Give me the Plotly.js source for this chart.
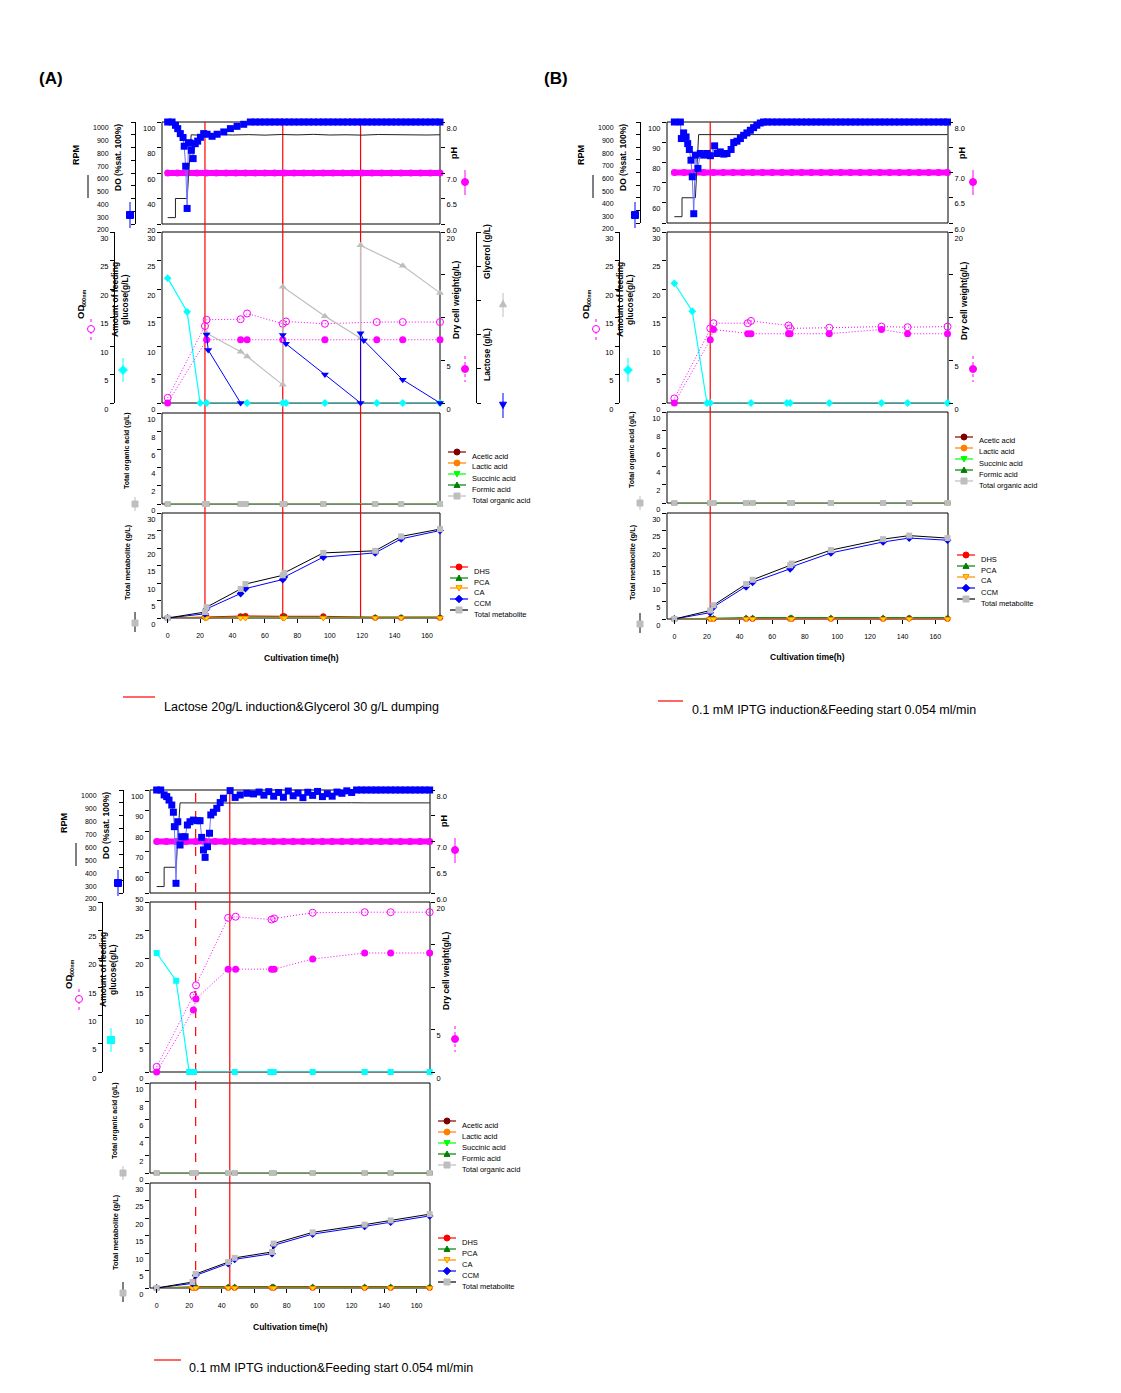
<!DOCTYPE html>
<html><head><meta charset="utf-8">
<script src="https://cdn.plot.ly/plotly-3.0.1.min.js"></script>
<style>html,body{margin:0;padding:0;background:#fff}#chart{width:1121px;height:1393px}</style>
</head><body><div id="chart"></div>
<script>
// ====================== DATA ======================
// common tick labels
const xTicks = [0, 20, 40, 60, 80, 100, 120, 140, 160];

// ---------- Panel A : Lactose 20 g/L induction & Glycerol 30 g/L dumping ----------
const A_induction = [23, 71, 119];
const A_do_t = [0,2.7,4.8,6.2,7.8,9.5,10.2,11.1,12.0,12.8,13.6,14.6,15.7,17,18.5,20.2,22.2,24.3,27.4,30.5,34.6,38.7,42.8,46.9,51,
  54,57,60,63,66,69,72,75,78,81,84,87,90,93,96,99,102,105,108,111,114,117,120,123,126,129,132,135,138,141,144,147,150,153,156,159,162,165,168];
const A_do = [100,100,97.4,94.8,90.9,87.8,81,65.3,32.2,83.6,83.6,77.8,71.3,83,85,88,90.9,90.4,88.8,90.4,92.2,94.8,96.6,98.2,100,
  100,100,100,100,100,100,100,100,100,100,100,100,100,100,100,100,100,100,100,100,100,100,100,100,100,100,100,100,100,100,100,100,100,100,100,100,100,100,100];
const A_rpm_t = [0,4.8,4.8,12,14.5,20,30,40,50,60,70,80,90,100,110,120,130,140,150,160,168];
const A_rpm   = [250,250,400,400,900,896,903,898,901,897,902,899,903,898,900,897,902,899,901,898,900];
const A_ph_t = [0,6,12,18,24,30,36,42,48,54,60,66,72,78,84,90,96,102,108,114,120,126,132,138,144,150,156,162,168];
const A_ph   = [7.0,7.0,7.0,7.0,7.0,7.0,7.0,7.0,7.0,7.0,7.0,7.0,7.0,7.0,7.0,7.0,7.0,7.0,7.0,7.0,7.0,7.0,7.0,7.0,7.0,7.0,7.0,7.0,7.0];
const A_glc_t = [0,12,20,24,49,71,73,97,129,145,168];
const A_glc   = [21.9,16.0,0,0,0,0,0,0,0,0,0];
const A_od_t = [0,23,24,45,49,71,73,97,129,145,168];
const A_od   = [0.9,13.5,14.6,14.7,15.7,13.9,14.3,13.9,14.2,14.2,14.2];
const A_dcw_t = [0,24,45,49,71,97,129,145,168];
const A_dcw   = [0,7.4,7.4,7.4,7.4,7.4,7.4,7.4,7.4];
const A_lac_t = [24,25,45,45,71,73,97,119,119,121,145,168];
const A_lac   = [20,15.5,0,null,19.9,17.3,8.3,0,20.4,18.3,6.8,0];
const A_gly_t = [24,45,49,71,71,97,119,119,145,168];
const A_gly   = [20.4,15.0,13.6,5.3,34.0,25.4,18.9,46.1,40.1,32.2];
const A_met_t = [0,23,24,45,48,71,72,96,128,144,168];
const A_acetic = [0,0,0,0,0,0,0,0,0,0,0];
const A_lactic = [0,0,0,0,0,0,0,0,0,0,0];
const A_succinic = [0,0,0,0,0,0,0,0,0,0,0];
const A_formic = [0,0,0,0,0,0,0,0,0,0,0];
const A_totOA = [0,0,0,0,0,0,0,0,0,0,0];
const A_dhs = [0,0.2,0.3,0.5,0.6,0.5,0.5,0.5,0.1,0.1,0.1];
const A_pca = [0,0.2,0.2,0.3,0.3,0.3,0.3,0.3,0.3,0.3,0.3];
const A_ca  = [0,0,0,0,0,0,0,0,0,0,0];
const A_ccm = [0,1.2,2.6,7.0,8.4,11.0,11.7,17.4,18.6,22.6,25.0];
const A_tot = [0,1.7,3.1,8.3,9.7,12.2,12.9,18.6,19.2,23.3,25.4];

// ---------- Panel B : 0.1 mM IPTG induction & Feeding start 0.054 ml/min ----------
const B_induction = [22];
const B_do_t = [0,3.7,4.3,5.7,7.2,8.2,9.2,10.2,11,11.9,12.9,14.5,15.9,18,20,22.1,24.7,26.2,28.2,30.3,32.3,34.8,36.4,38.4,40.5,42.5,44.5,46.6,48.6,50.6,52.7,54.7,
  57,60,63,66,69,72,75,78,81,84,87,90,93,96,99,102,105,108,111,114,117,120,123,126,129,132,135,138,141,144,147,150,153,156,159,162,165,167.5];
const B_do = [100,100,91.8,94.6,92.6,89.3,86.4,81.1,72.9,54.6,83.6,77,84.4,83.6,84.4,83.3,88.2,84.4,85.2,84.1,84.4,86.4,89.8,90.5,91.8,93.4,94.6,95.9,97.2,98.4,99.5,100,
  100,100,100,100,100,100,100,100,100,100,100,100,100,100,100,100,100,100,100,100,100,100,100,100,100,100,100,100,100,100,100,100,100,100,100,100,100,100];
const B_rpm_t = [0,4.7,4.7,12.9,14.9,20,30,40,50,60,70,80,90,100,110,120,130,140,150,160,167.5];
const B_rpm   = [250,250,400,400,900,900,901,899,900,900,901,900,899,900,900,901,900,899,900,900,900];
const B_ph_t = [0,6,12,18,24,30,36,42,48,54,60,66,72,78,84,90,96,102,108,114,120,126,132,138,144,150,156,162,167.5];
const B_ph   = [7.0,7.0,7.0,7.0,7.0,7.0,7.0,7.0,7.0,7.0,7.0,7.0,7.0,7.0,7.0,7.0,7.0,7.0,7.0,7.0,7.0,7.0,7.0,7.0,7.0,7.0,7.0,7.0,7.0];
const B_glc_t = [0,11,20,22,47,69,71,95,127,143,167.5];
const B_glc   = [21.0,16.1,0,0,0,0,0,0,0,0,0];
const B_od_t = [0,22,24,45,47,70,71,95,127,143,167.5];
const B_od   = [0.8,13.1,14.0,14.0,14.4,13.6,13.1,13.2,13.4,13.3,13.4];
const B_dcw_t = [0,22,24,45,47,70,71,95,127,143,167.5];
const B_dcw   = [0,7.4,8.6,8.1,8.1,8.1,8.1,8.1,8.6,8.1,8.1];
const B_met_t = [0,22,24,44,48,71,72,96,128,144,167.5];
const B_acetic = [0,0,0,0,0,0,0,0,0,0,0];
const B_lactic = [0,0,0,0,0,0,0,0,0,0,0];
const B_succinic = [0,0,0,0,0,0,0,0,0,0,0];
const B_formic = [0,0,0,0,0,0,0,0,0,0,0];
const B_totOA = [0,0,0,0,0,0,0,0,0,0,0];
const B_dhs = [0,0.1,0.1,0.1,0.1,0.1,0.1,0.1,0.1,0.2,0.1];
const B_pca = [0,0.3,0.3,0.4,0.4,0.4,0.4,0.4,0.4,0.4,0.4];
const B_ca  = [0,0,0,0,0,0,0,0,0,0,0];
const B_ccm = [0,1.8,3.4,9.1,10.4,14.2,14.8,18.7,21.8,22.9,22.3];
const B_tot = [0,2.4,3.9,9.9,11.1,15.2,15.7,19.5,22.6,23.6,22.9];

// ---------- Panel C : 0.1 mM IPTG induction & Feeding start 0.054 ml/min ----------
const C_induction_dashed = [24];
const C_induction = [45];
const C_do_t = [0,2.5,4.6,6.2,7.6,9.3,10.3,10.9,11.9,13,14.4,15.4,17.5,18.9,20.5,22.6,25.2,26.7,27.7,28.8,29.8,31.3,32.5,33.3,34.9,37,39.1,41.1,45.2,48.3,51.4,55.5,59.6,
  63,66,69,72,75,78,81,84,87,90,93,96,99,102,105,108,111,114,117,120,123,126,129,132,135,138,141,144,147,150,153,156,159,162,165,168];
const C_do = [100,100,97.6,96.8,95.1,92.7,89.2,82.2,54.7,84.6,73.3,77.3,77.3,83,84.6,85.4,85.1,85.1,77,70.9,67.3,72.5,79,87.9,89.2,91.1,93.9,96,99.7,96.4,97.6,98.4,98.1,
  99,97.5,99.2,97,98.8,96.5,99.5,97.2,98.5,96.3,98.9,97.4,99.3,96.8,98.2,97,99,98.4,99.6,98.8,100,100,100,100,100,100,100,100,100,100,100,100,100,100,100,100];
const C_rpm_t = [0,4.6,4.6,11.9,14.4,20,30,40,50,60,70,80,90,100,110,120,130,140,150,160,168];
const C_rpm   = [250,250,400,400,900,899,901,900,899,900,901,900,900,899,900,901,900,900,899,900,900];
const C_ph_t = [0,6,12,18,24,30,36,42,48,54,60,66,72,78,84,90,96,102,108,114,120,126,132,138,144,150,156,162,168];
const C_ph   = [7.0,7.0,7.0,7.0,7.0,7.0,7.0,7.0,7.0,7.0,7.0,7.0,7.0,7.0,7.0,7.0,7.0,7.0,7.0,7.0,7.0,7.0,7.0,7.0,7.0,7.0,7.0,7.0,7.0];
const C_glc_t = [0,12,20,21,23,48,70,72,96,128,144,168];
const C_glc   = [21.0,16.1,0,0,0,0,0,0,0,0,0,0];
const C_od_t = [0,22.6,24.2,44,48.6,70.7,72.3,96,128,144,168];
const C_od   = [0.9,13.5,15.3,27.2,27.4,26.9,27.1,28.1,28.2,28.2,28.2];
const C_dcw_t = [0,22.6,24.2,44,48.6,70.7,72.3,96,128,144,168];
const C_dcw   = [0,7.3,8.6,12.1,12.1,12.1,12.1,13.3,14.0,14.0,14.0];
const C_met_t = [0,22,24,44,48,71,72,96,128,144,168];
const C_acetic = [0,0,0,0,0,0,0,0,0,0,0];
const C_lactic = [0,0,0,0,0,0,0,0,0,0,0];
const C_succinic = [0,0,0,0,0,0,0,0,0,0,0];
const C_formic = [0,0,0,0,0,0,0,0,0,0,0];
const C_totOA = [0,0,0,0,0,0,0,0,0,0,0];
const C_dhs = [0,0.1,0.1,0.1,0.1,0.1,0.1,0.1,0.1,0.1,0.1];
const C_pca = [0,0.4,0.4,0.4,0.4,0.4,0.4,0.4,0.4,0.4,0.4];
const C_ca  = [0,0,0,0,0,0,0,0,0,0,0];
const C_ccm = [0,1.3,3.6,7.0,8.2,9.8,12.2,15.4,17.6,18.8,20.6];
const C_tot = [0,1.7,4.0,7.4,8.6,10.3,12.7,15.9,18.1,19.3,21.1];

// text
const captionA = 'Lactose 20g/L induction&Glycerol 30 g/L dumping';
const captionB = '0.1 mM IPTG induction&Feeding start 0.054 ml/min';
const captionC = '0.1 mM IPTG induction&Feeding start 0.054 ml/min';
const oaNames = ['Acetic acid','Lactic acid','Succinic acid','Formic acid','Total organic acid'];
const metNames = ['DHS','PCA','CA','CCM','Total metabolite'];

// ====================== BUILD ======================
const W = 1121, H = 1393;
const FONT = 'Arial, "Liberation Sans", sans-serif';
const X = px => px / W, Y = py => 1 - py / H;
const DOT = '1px,2px';
const SHIFT = 6;   // tick labels sit slightly below their ticks in the reference
const layout = {width: W, height: H, margin: {l:0, r:0, t:0, b:0}, paper_bgcolor: '#fff',
  plot_bgcolor: 'rgba(0,0,0,0)', showlegend: false, shapes: [], annotations: [],
  font: {family: FONT, size: 8, color: '#000'}};
const traces = [];
let yCount = 0;
function newY(def){ yCount++; layout[yCount === 1 ? 'yaxis' : 'yaxis' + yCount] = def; return yCount === 1 ? 'y' : 'y' + yCount; }
function yax(o){ return Object.assign({showgrid:false, zeroline:false, showline:false, ticks:'outside', ticklen:4,
  tickwidth:1, tickcolor:'#000', tickfont:{size:7.5, family:FONT, color:'#000'}, ticklabelshift:SHIFT, fixedrange:true}, o); }
function txt(x, y, text, o){ layout.annotations.push(Object.assign({xref:'paper', yref:'paper', x:X(x), y:Y(y), text,
  showarrow:false, font:{family:FONT, size:8, color:'#000'}, xanchor:'center', yanchor:'middle'}, o || {})); }
function vline(x, y0, y1, col, dash){ layout.shapes.push({type:'line', xref:'paper', yref:'paper', x0:X(x), x1:X(x), y0:Y(y0), y1:Y(y1), line:{color:col, width:1, dash:dash || 'solid'}}); }
function hline(x0, x1, y, col, w){ layout.shapes.push({type:'line', xref:'paper', yref:'paper', x0:X(x0), x1:X(x1), y0:Y(y), y1:Y(y), line:{color:col, width:w || 1}}); }
function mark(cx, cy, sym, col, fill, s){
  const r = s / 2;
  if (sym === 'circle') { layout.shapes.push({type:'circle', xref:'paper', yref:'paper', x0:X(cx-r), x1:X(cx+r), y0:Y(cy+r), y1:Y(cy-r), fillcolor:fill, line:{color:col, width:1}}); return; }
  let p;
  if (sym === 'square') p = [[cx-r,cy-r],[cx+r,cy-r],[cx+r,cy+r],[cx-r,cy+r]];
  if (sym === 'diamond') p = [[cx,cy-r*1.25],[cx+r*1.25,cy],[cx,cy+r*1.25],[cx-r*1.25,cy]];
  if (sym === 'tu') p = [[cx,cy-r],[cx+r,cy+r*0.8],[cx-r,cy+r*0.8]];
  if (sym === 'td') p = [[cx,cy+r],[cx+r,cy-r*0.8],[cx-r,cy-r*0.8]];
  layout.shapes.push({type:'path', xref:'paper', yref:'paper', path:'M' + p.map(q => X(q[0]) + ',' + Y(q[1])).join('L') + 'Z', fillcolor:fill, line:{color:col, width:1}});
}
function legendBlock(x0, ys, names, styles){
  names.forEach((n, i) => { const y = ys[i], s = styles[i];
    hline(x0, x0 + 18, y, s.lc, 1.2);
    mark(x0 + 9, y, s.sym, s.mc, s.fill, 6);
    txt(x0 + 22, y + 4, n, {xanchor:'left', font:{family:FONT, size:7.5, color:'#000'}});
  });
}
const oaStyles = [
  {lc:'#800000', sym:'circle', mc:'#800000', fill:'#800000'},
  {lc:'#FF8000', sym:'circle', mc:'#FF8000', fill:'#FF8000'},
  {lc:'#00FF00', sym:'td', mc:'#00FF00', fill:'#00FF00'},
  {lc:'#008000', sym:'tu', mc:'#008000', fill:'#008000'},
  {lc:'#BEBEBE', sym:'square', mc:'#BEBEBE', fill:'#BEBEBE'}];
const metStyles = [
  {lc:'#FF0000', sym:'circle', mc:'#FF0000', fill:'#FF0000'},
  {lc:'#008000', sym:'tu', mc:'#008000', fill:'#008000'},
  {lc:'#FF8C00', sym:'td', mc:'#FF8C00', fill:'#FFD700'},
  {lc:'#0000FF', sym:'diamond', mc:'#0000FF', fill:'#0000FF'},
  {lc:'#000000', sym:'square', mc:'#BEBEBE', fill:'#BEBEBE'}];

function buildPanel(P){
  const xid = P.xid, xname = xid === 'x' ? 'xaxis' : 'xaxis' + xid.slice(1);
  const {r1, r2, r3, r4, xL, xR} = P;
  const yd = r => [Y(r[1]), Y(r[0])];
  // row 1
  const yPH = newY(yax({domain:yd(r1), anchor:xid, side:'right', range:[6,8], tickvals:[6,6.5,7,8], ticktext:['6.0','6.5','7.0','8.0'],
    minor:{dtick:0.5, ticks:'outside', ticklen:4, tickcolor:'#000'}}));
  const yRPM = newY(yax({overlaying:yPH, anchor:'free', position:X(xL-27), side:'left', range:[200,1000], dtick:100,
    showline:true, linecolor:'#000', linewidth:1, ticklabelstandoff:21, tickfont:{size:7, family:FONT, color:'#000'}}));
  const yDO = newY(yax({overlaying:yPH, anchor:xid, side:'left', range:P.doRange, dtick:P.doDtick}));
  // row 2
  const yGLC = newY(yax({domain:yd(r2), anchor:xid, side:'left', range:[0,30], dtick:5}));
  const yOD = newY(yax({overlaying:yGLC, anchor:'free', position:X(xL-48), side:'left', range:[0,30], dtick:5, showline:true, linecolor:'#000', linewidth:1}));
  const yDCW = newY(yax({overlaying:yGLC, anchor:xid, side:'right', range:[0,20], tickvals:[0,5,20],
    minor:{dtick:5, ticks:'outside', ticklen:4, tickcolor:'#000'}}));
  let yLAC = null;
  if (P.lac) yLAC = newY(yax({overlaying:yGLC, anchor:'free', position:X(xR+36), side:'right', range:[0,50], dtick:10, showline:true, linecolor:'#000', linewidth:1, showticklabels:false}));
  // rows 3, 4
  const yOA = newY(yax({domain:yd(r3), anchor:xid, side:'left', range:[0,10], dtick:2}));
  const yMET = newY(yax({domain:yd(r4), anchor:xid, side:'left', range:[0,30], dtick:5}));
  layout[xname] = {domain:[X(xL), X(xR)], anchor:yMET, range:P.xRange, tickvals:xTicks, ticks:'outside', ticklen:4, tickcolor:'#000',
    ticklabelstandoff:7, showgrid:false, zeroline:false, showline:false, tickfont:{size:7, family:FONT, color:'#000'}, fixedrange:true};

  // frames
  [yPH, yGLC, yOA, yMET].forEach(y => layout.shapes.push({type:'rect', xref:xid + ' domain', yref:y + ' domain', x0:0, x1:1, y0:0, y1:1, line:{color:'#000', width:1}, layer:'below'}));
  // induction lines
  P.solid.forEach(t => layout.shapes.push({type:'line', xref:xid, yref:'paper', x0:t, x1:t, y0:Y(r4[1]), y1:Y(r1[0]), line:{color:'#FF0000', width:1.2}, layer:'below'}));
  (P.dashed || []).forEach(t => layout.shapes.push({type:'line', xref:xid, yref:'paper', x0:t, x1:t, y0:Y(r4[1]), y1:Y(r1[0]), line:{color:'#FF0000', width:1.2, dash:'dash'}, layer:'below'}));

  const tr = o => traces.push(Object.assign({type:'scatter', xaxis:xid, cliponaxis:false, hoverinfo:'skip', showlegend:false}, o));
  // row 1
  tr({x:P.ph_t, y:P.ph, yaxis:yPH, mode:'lines+markers', line:{color:'#FF00FF', width:6}, marker:{symbol:'circle', size:7, color:'#FF00FF'}});
  tr({x:P.rpm_t, y:P.rpm, yaxis:yRPM, mode:'lines', line:{color:'#222', width:1}});
  tr({x:P.do_t, y:P.do, yaxis:yDO, mode:'lines+markers', line:{color:'#7070ff', width:1}, marker:{symbol:'square', size:7, color:'#0000FF'}});
  // row 2
  tr({x:P.glc_t, y:P.glc, yaxis:yGLC, mode:'lines+markers', line:{color:'#00FFFF', width:1.2}, marker:{symbol:P.glcSym, size:6, color:'#00FFFF'}});
  tr({x:P.od_t, y:P.od, yaxis:yOD, mode:'lines+markers', line:{color:'#FF00FF', width:1, dash:DOT}, marker:{symbol:'circle-open', size:7, color:'#FF00FF', line:{width:1}}});
  tr({x:P.dcw_t, y:P.dcw, yaxis:yDCW, mode:'lines+markers', line:{color:'#FF00FF', width:1, dash:DOT}, marker:{symbol:'circle', size:7, color:'#FF00FF'}});
  if (P.lac) {
    tr({x:P.gly_t, y:P.gly, yaxis:yLAC, mode:'lines+markers', line:{color:'#BEBEBE', width:1.2}, marker:{symbol:'triangle-up', size:7, color:'#BEBEBE'}});
    tr({x:P.lac_t, y:P.lac, yaxis:yLAC, mode:'lines+markers', connectgaps:false, line:{color:'#0000FF', width:1}, marker:{symbol:'triangle-down', size:7, color:'#0000FF'}});
  }
  // row 3 organic acids
  const oaData = [P.acetic, P.lactic, P.succinic, P.formic, P.totOA];
  const oaSym = ['circle','circle','triangle-down','triangle-up','square'];
  oaData.forEach((d, i) => tr({x:P.met_t, y:d, yaxis:yOA, mode:'lines+markers', line:{color:oaStyles[i].lc, width:1.2}, marker:{symbol:oaSym[i], size:6, color:oaStyles[i].fill}}));
  // row 4 metabolites
  tr({x:P.met_t, y:P.dhs, yaxis:yMET, mode:'lines+markers', line:{color:'#FF0000', width:1}, marker:{symbol:'circle', size:6, color:'#FF0000'}});
  tr({x:P.met_t, y:P.pca, yaxis:yMET, mode:'lines+markers', line:{color:'#008000', width:1}, marker:{symbol:'triangle-up', size:6, color:'#008000'}});
  tr({x:P.met_t, y:P.ca, yaxis:yMET, mode:'lines+markers', line:{color:'#FF8C00', width:1.2}, marker:{symbol:'triangle-down', size:6, color:'#FFD700', line:{color:'#FF8C00', width:1}}});
  tr({x:P.met_t, y:P.ccm, yaxis:yMET, mode:'lines+markers', line:{color:'#0000FF', width:1}, marker:{symbol:'diamond', size:6, color:'#0000FF'}});
  tr({x:P.met_t, y:P.tot, yaxis:yMET, mode:'lines+markers', line:{color:'#000', width:1}, marker:{symbol:'square', size:6, color:'#BEBEBE'}});

  // ---- axis titles & key glyphs ----
  const B9 = {family:FONT, size:9, color:'#000'};
  const F = s => ({family:FONT, size:s, color:'#000'});
  txt(xL-86, r1[0]+33, '<b>RPM</b>', {textangle:-90, font:B9});
  vline(xL-74, r1[0]+53, r1[0]+76, '#000');
  txt(xL-44, r1[0]+36, '<b>DO (%sat. 100%)</b>', {textangle:-90, font:F(8.5)});
  vline(xL-32, r1[0]+80, r1[0]+106, '#0000FF'); mark(xL-32, r1[0]+93, 'square', '#0000FF', '#0000FF', 7);
  txt(xR+14, r1[0]+31, '<b>pH</b>', {textangle:-90, font:B9});
  vline(xR+25, r1[0]+48, r1[0]+73, '#FF00FF'); mark(xR+25, r1[0]+60, 'circle', '#FF00FF', '#FF00FF', 7);

  txt(xL-82, r2[0]+80, '<b>OD</b>', {textangle:-90, font:F(9.5)});
  txt(xL-78, r2[0]+66, '<b>600nm</b>', {textangle:-90, font:F(5.5)});
  vline(xL-71, r2[0]+87, r2[0]+108, '#FF00FF', 'dot'); mark(xL-71, r2[0]+97, 'circle', '#FF00FF', '#FFFFFF', 7);
  txt(xL-47, r2[0]+68, '<b>Amount of feeding</b>', {textangle:-90, font:F(8.5)});
  txt(xL-37, r2[0]+68, '<b>glucose(g/L)</b>', {textangle:-90, font:F(8.5)});
  vline(xL-39, r2[0]+126, r2[0]+150, '#00FFFF'); mark(xL-39, r2[0]+138, P.glcSym === 'square' ? 'square' : 'diamond', '#00FFFF', '#00FFFF', 7);
  txt(xR+16, r2[0]+68, '<b>Dry cell weight(g/L)</b>', {textangle:-90, font:F(8.5)});
  vline(xR+25, r2[0]+124, r2[0]+150, '#FF00FF', 'dot'); mark(xR+25, r2[0]+137, 'circle', '#FF00FF', '#FF00FF', 7);
  if (P.lac) {
    txt(xR+47, r2[0]+20, '<b>Glycerol (g/L)</b>', {textangle:-90, font:F(8.5)});
    txt(xR+47, r2[0]+123, '<b>Lactose (g/L)</b>', {textangle:-90, font:F(8.5)});
    vline(xR+63, r2[0]+61, r2[0]+85, '#BEBEBE'); mark(xR+63, r2[0]+72, 'tu', '#BEBEBE', '#BEBEBE', 7);
    vline(xR+63, r2[0]+161, r2[0]+186, '#0000FF'); mark(xR+63, r2[0]+173, 'td', '#0000FF', '#0000FF', 7);
  }
  txt(xL-35, r3[0]+38, '<b>Total organic acid (g/L)</b>', {textangle:-90, font:F(7)});
  vline(xL-27, r3[1]-7, r3[1]+7, '#BEBEBE'); mark(xL-27, r3[1], 'square', '#BEBEBE', '#BEBEBE', 6);
  txt(xL-35, r4[0]+49, '<b>Total metabolite (g/L)</b>', {textangle:-90, font:F(7.5)});
  vline(xL-27, r4[1]-6, r4[1]+14, '#000'); mark(xL-27, r4[1]+5, 'square', '#BEBEBE', '#BEBEBE', 6);

  legendBlock(P.leg3[0], P.leg3[1], oaNames, oaStyles);
  legendBlock(P.leg4[0], P.leg4[1], metNames, metStyles);

  txt((xL+xR)/2, P.xTitleY, '<b>Cultivation time(h)</b>', {font:F(8.5)});
  hline(P.cap[0], P.cap[1], P.cap[2], '#FF0000', 1.2);
  txt(P.cap[3], P.cap[4], P.caption, {xanchor:'left', font:F(12.5)});
}

buildPanel({xid:'x', xL:162, xR:440, r1:[122,224], r2:[232,403], r3:[413,504], r4:[513,618], xRange:[-3.5,168],
  doRange:[20,100], doDtick:20, solid:A_induction, lac:true, glcSym:'diamond',
  do_t:A_do_t, do:A_do, rpm_t:A_rpm_t, rpm:A_rpm, ph_t:A_ph_t, ph:A_ph, glc_t:A_glc_t, glc:A_glc, od_t:A_od_t, od:A_od,
  dcw_t:A_dcw_t, dcw:A_dcw, lac_t:A_lac_t, lac:A_lac, gly_t:A_gly_t, gly:A_gly, met_t:A_met_t,
  acetic:A_acetic, lactic:A_lactic, succinic:A_succinic, formic:A_formic, totOA:A_totOA,
  dhs:A_dhs, pca:A_pca, ca:A_ca, ccm:A_ccm, tot:A_tot,
  leg3:[448,[452,463,474,485,496]], leg4:[450,[567,578,588,599,610]], xTitleY:658,
  cap:[123,155,697,162,707], caption:captionA});
buildPanel({xid:'x2', xL:667, xR:948, r1:[122,223], r2:[232,403], r3:[412,503], r4:[513,619], xRange:[-4.5,167.8],
  doRange:[50,100], doDtick:10, solid:B_induction, lac:false, glcSym:'diamond',
  do_t:B_do_t, do:B_do, rpm_t:B_rpm_t, rpm:B_rpm, ph_t:B_ph_t, ph:B_ph, glc_t:B_glc_t, glc:B_glc, od_t:B_od_t, od:B_od,
  dcw_t:B_dcw_t, dcw:B_dcw, met_t:B_met_t,
  acetic:B_acetic, lactic:B_lactic, succinic:B_succinic, formic:B_formic, totOA:B_totOA,
  dhs:B_dhs, pca:B_pca, ca:B_ca, ccm:B_ccm, tot:B_tot,
  leg3:[955,[437,448,459,470,481]], leg4:[957,[555,566,577,588,599]], xTitleY:657,
  cap:[658,683,701,690,710], caption:captionB});
buildPanel({xid:'x3', xL:150, xR:430, r1:[790,893], r2:[902,1072], r3:[1083,1173], r4:[1183,1288], xRange:[-4.1,168.2],
  doRange:[50,100], doDtick:10, solid:C_induction, dashed:C_induction_dashed, lac:false, glcSym:'square',
  do_t:C_do_t, do:C_do, rpm_t:C_rpm_t, rpm:C_rpm, ph_t:C_ph_t, ph:C_ph, glc_t:C_glc_t, glc:C_glc, od_t:C_od_t, od:C_od,
  dcw_t:C_dcw_t, dcw:C_dcw, met_t:C_met_t,
  acetic:C_acetic, lactic:C_lactic, succinic:C_succinic, formic:C_formic, totOA:C_totOA,
  dhs:C_dhs, pca:C_pca, ca:C_ca, ccm:C_ccm, tot:C_tot,
  leg3:[438,[1121,1132,1143,1154,1165]], leg4:[438,[1238,1249,1260,1271,1282]], xTitleY:1327,
  cap:[154,181,1360,187,1368], caption:captionC});

txt(51, 78, '<b>(A)</b>', {font:{family:FONT, size:17, color:'#000'}});
txt(556, 78, '<b>(B)</b>', {font:{family:FONT, size:17, color:'#000'}});

Plotly.newPlot('chart', traces, layout, {staticPlot:true, displayModeBar:false});
</script></body></html>
